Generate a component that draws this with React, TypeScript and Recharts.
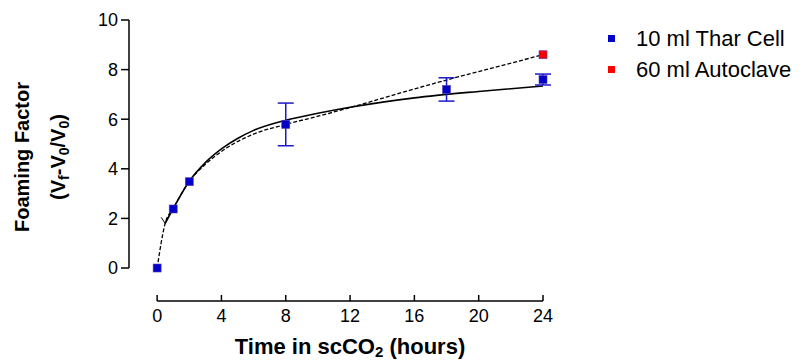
import { ComposedChart, XAxis, YAxis, Line, Scatter, ErrorBar, ReferenceLine, Label } from 'recharts';

// measured points (hours, foaming factor)
const tharHours = [0, 1, 2, 8, 18, 24];
const tharValues = [0, 2.38, 3.48, 5.79, 7.2, 7.6];
const tharErrors = [0, 0, 0, 0.86, 0.47, 0.22];

const autoclaveHours = [24];
const autoclaveValues = [8.6];

// solid fitted curve
const fitHours = [0.5, 1, 2, 3, 4, 5, 6, 8, 10, 12, 16, 20, 24];
const fitValues = [1.8, 2.4, 3.5, 4.25, 4.8, 5.22, 5.55, 5.96, 6.24, 6.48, 6.86, 7.12, 7.34];

// dashed curve
const dashHours = [0, 0.5, 1, 2, 3, 4, 6, 8, 10, 12, 16, 18, 20, 24];
const dashValues = [0, 1.8, 2.4, 3.5, 4.18, 4.7, 5.4, 5.79, 6.12, 6.47, 7.22, 7.58, 7.92, 8.6];

const xTicks = [0, 4, 8, 12, 16, 20, 24];
const yTicks = [0, 2, 4, 6, 8, 10];

const legendItems = [
  { label: '10 ml Thar Cell', color: '#0000c8' },
  { label: '60 ml Autoclave', color: '#ff0000' },
];

const FONT = '"Liberation Sans", Arial, Helvetica, sans-serif';
const X_MIN = -1.75;
const Y_MIN = -1.33;

const tharData = tharHours.map((h, i) => ({ x: h, y: tharValues[i], err: tharErrors[i] }));
const autoclaveData = autoclaveHours.map((h, i) => ({ x: h, y: autoclaveValues[i] }));
const fitData = fitHours.map((h, i) => ({ x: h, y: fitValues[i] }));
const dashData = dashHours.map((h, i) => ({ x: h, y: dashValues[i] }));
const fitStart = [{ x: fitHours[0], y: fitValues[0] }];

const Square = (props: any) => {
  const { cx, cy, fill } = props;
  return <rect x={cx - 4} y={cy - 4} width={8} height={8} fill={fill} stroke="#5a3cb0" strokeWidth={0.6} />;
};

const Chevron = (props: any) => {
  const { cx, cy } = props;
  return <path d={`M${cx - 4},${cy - 6} L${cx},${cy} L${cx + 3},${cy - 6}`} fill="none" stroke="#000" strokeWidth={1} />;
};

const XTick = (props: any) => {
  const { x, y, payload } = props;
  return (
    <g>
      <line x1={x} x2={x} y1={y - 6} y2={y} stroke="#000" strokeWidth={1.5} />
      <text x={x} y={y + 21} textAnchor="middle" fontSize={18} fontFamily={FONT} fill="#000">
        {payload.value}
      </text>
    </g>
  );
};

const YTitle = () => (
  <g fontFamily={FONT} fontWeight="bold" fontSize={20} fill="#000">
    <text transform="translate(29,157) rotate(-90)" textAnchor="middle">
      Foaming Factor
    </text>
    <text transform="translate(65,157) rotate(-90)" textAnchor="middle">
      (V<tspan dy={4} fontSize={14}>f</tspan>
      <tspan dy={-4}>-V</tspan>
      <tspan dy={4} fontSize={14}>0</tspan>
      <tspan dy={-4}>/V</tspan>
      <tspan dy={4} fontSize={14}>0</tspan>
      <tspan dy={-4}>)</tspan>
    </text>
  </g>
);

const LegendBox = () => (
  <div style={{ position: 'absolute', left: 608, top: 23, fontFamily: FONT, fontSize: 22, color: '#000' }}>
    {legendItems.map((item) => (
      <div key={item.label} style={{ display: 'flex', alignItems: 'center', height: 31 }}>
        <span style={{ display: 'inline-block', width: 7, height: 7, background: item.color, marginRight: 21 }} />
        <span>{item.label}</span>
      </div>
    ))}
  </div>
);

export default function App() {
  return (
    <div style={{ position: 'absolute', left: 0, top: 0, width: 802, height: 360, background: '#fff' }}>
      <ComposedChart width={802} height={360} margin={{ top: 20, right: 259, bottom: 0, left: 69 }}>
        <XAxis
          type="number"
          dataKey="x"
          domain={[X_MIN, 24]}
          ticks={xTicks}
          axisLine={false}
          tickLine={false}
          tickSize={0}
          tickMargin={0}
          height={59}
          tick={<XTick />}
          label={
            <Label
              content={() => (
                <text x={350} y={354} textAnchor="middle" fontFamily={FONT} fontWeight="bold" fontSize={22} fill="#000">
                  Time in scCO<tspan dy={3} fontSize={15}>2</tspan>
                  <tspan dy={-3}> (hours)</tspan>
                </text>
              )}
            />
          }
        />
        <YAxis
          type="number"
          dataKey="y"
          domain={[Y_MIN, 10]}
          ticks={yTicks}
          axisLine={false}
          tickSize={8}
          tickMargin={3}
          width={60}
          tickLine={{ stroke: '#000', strokeWidth: 1.5 }}
          tick={{ fontSize: 18, fontFamily: FONT, fill: '#000' }}
          label={<Label content={() => <YTitle />} />}
        />
        <ReferenceLine
          segment={[{ x: X_MIN, y: 0 }, { x: X_MIN, y: 10 }]}
          stroke="#000"
          strokeWidth={1.5}
          ifOverflow="visible"
        />
        <ReferenceLine
          segment={[{ x: 0, y: Y_MIN }, { x: 24, y: Y_MIN }]}
          stroke="#000"
          strokeWidth={1.5}
          ifOverflow="visible"
        />
        <Line
          data={dashData}
          dataKey="y"
          type="monotone"
          stroke="#000"
          strokeWidth={1.3}
          strokeDasharray="4 2"
          dot={false}
          activeDot={false}
          isAnimationActive={false}
        />
        <Line
          data={fitData}
          dataKey="y"
          type="monotone"
          stroke="#000"
          strokeWidth={1.6}
          dot={false}
          activeDot={false}
          isAnimationActive={false}
        />
        <Scatter data={fitStart} dataKey="y" shape={<Chevron />} isAnimationActive={false} />
        <Scatter data={tharData} dataKey="y" fill="#0000c8" shape={<Square />} isAnimationActive={false}>
          <ErrorBar dataKey="err" direction="y" width={8} stroke="#1a1acc" strokeWidth={1.5} />
        </Scatter>
        <Scatter data={autoclaveData} dataKey="y" fill="#ff0000" shape={<Square />} isAnimationActive={false} />
      </ComposedChart>
      <LegendBox />
    </div>
  );
}
